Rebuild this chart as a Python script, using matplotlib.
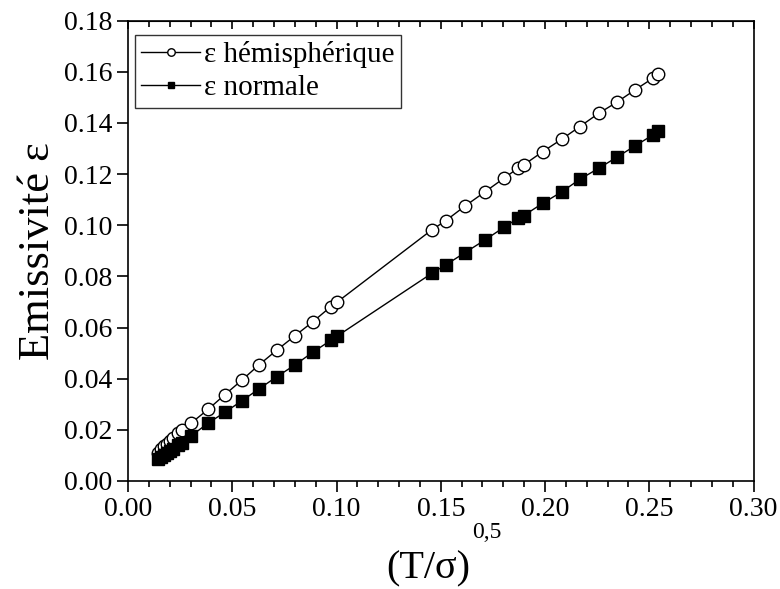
import matplotlib
matplotlib.use("Agg")
import matplotlib.pyplot as plt
from matplotlib.ticker import MultipleLocator

plt.rcParams['font.family'] = ['Liberation Serif', 'DejaVu Serif']

x_vals = [0.0144, 0.0158, 0.0173, 0.0187, 0.0201, 0.0216, 0.0240, 0.0259, 0.0302,
          0.0384, 0.0465, 0.0547, 0.0628, 0.0714, 0.0801, 0.0887, 0.0973, 0.1002,
          0.1457, 0.1524, 0.1616, 0.1711, 0.1803, 0.1870, 0.1898, 0.1989, 0.2081,
          0.2167, 0.2258, 0.2344, 0.2431, 0.2517, 0.2541]

eps_hemi = [0.0110, 0.0124, 0.0137, 0.0146, 0.0158, 0.0167, 0.0186, 0.0200, 0.0226,
            0.0280, 0.0338, 0.0395, 0.0454, 0.0512, 0.0568, 0.0623, 0.0682, 0.0699,
            0.0982, 0.1018, 0.1075, 0.1130, 0.1184, 0.1223, 0.1236, 0.1288, 0.1337,
            0.1386, 0.1438, 0.1481, 0.1529, 0.1575, 0.1591]

eps_norm = [0.0085, 0.0093, 0.0101, 0.0109, 0.0117, 0.0125, 0.0139, 0.0150, 0.0176,
            0.0226, 0.0269, 0.0314, 0.0360, 0.0408, 0.0454, 0.0504, 0.0550, 0.0566,
            0.0812, 0.0845, 0.0893, 0.0942, 0.0992, 0.1027, 0.1038, 0.1086, 0.1131,
            0.1180, 0.1223, 0.1266, 0.1310, 0.1353, 0.1369]

label_hemi = "ε hémisphérique"
label_norm = "ε normale"
xlabel_main = "(T/σ)"
xlabel_sup = "0,5"
ylabel = "Emissivité ε"

fig = plt.figure(figsize=(7.8, 5.89), dpi=100)
ax = fig.add_axes([128/780, 1-481/589, (753.5-128)/780, (481-20.7)/589])

ax.plot(x_vals, eps_hemi, '-o', color='black', lw=1.0, ms=9, mfc='white',
        mec='black', mew=1.0, label=label_hemi)
ax.plot(x_vals, eps_norm, '-s', color='black', lw=1.0, ms=8, mfc='black',
        mec='black', mew=1.0, label=label_norm)

ax.set_xlim(0, 0.30)
ax.set_ylim(0, 0.18)
ax.xaxis.set_major_locator(MultipleLocator(0.05))
ax.xaxis.set_minor_locator(MultipleLocator(0.01))
ax.yaxis.set_major_locator(MultipleLocator(0.02))
ax.xaxis.set_major_formatter(matplotlib.ticker.FormatStrFormatter('%.2f'))
ax.yaxis.set_major_formatter(matplotlib.ticker.FormatStrFormatter('%.2f'))

ax.tick_params(which='both', direction='out', top=False, right=False,
               labelsize=20, width=1.2, color='black')
ax.tick_params(which='major', length=8)
ax.tick_params(which='minor', length=4)

# inward ticks on top axis
axt = ax.secondary_xaxis('top')
axt.xaxis.set_major_locator(MultipleLocator(0.05))
axt.xaxis.set_minor_locator(MultipleLocator(0.01))
axt.tick_params(which='both', direction='in', labeltop=False, width=1.2)
axt.tick_params(which='major', length=6)
axt.tick_params(which='minor', length=4)

for s in ax.spines.values():
    s.set_linewidth(1.2)

# x label: main text + superscript
fig.text(470/780, 1 - 578/589, xlabel_main, fontsize=29, ha='right', va='baseline')
fig.text(472/780, 1 - 538/589, xlabel_sup, fontsize=17, ha='left', va='baseline')
ax.set_ylabel(ylabel, fontsize=32, labelpad=4)

leg = ax.legend(loc='upper left', bbox_to_anchor=(0.0112, 0.969),
                fontsize=21, frameon=True, fancybox=False,
                edgecolor='black', markerscale=0.6, handlelength=2.0,
                borderaxespad=0.0, borderpad=0.22, labelspacing=0.22,
                handletextpad=0.15)
leg.get_frame().set_linewidth(1.0)

fig.savefig("out.png", dpi=100)
